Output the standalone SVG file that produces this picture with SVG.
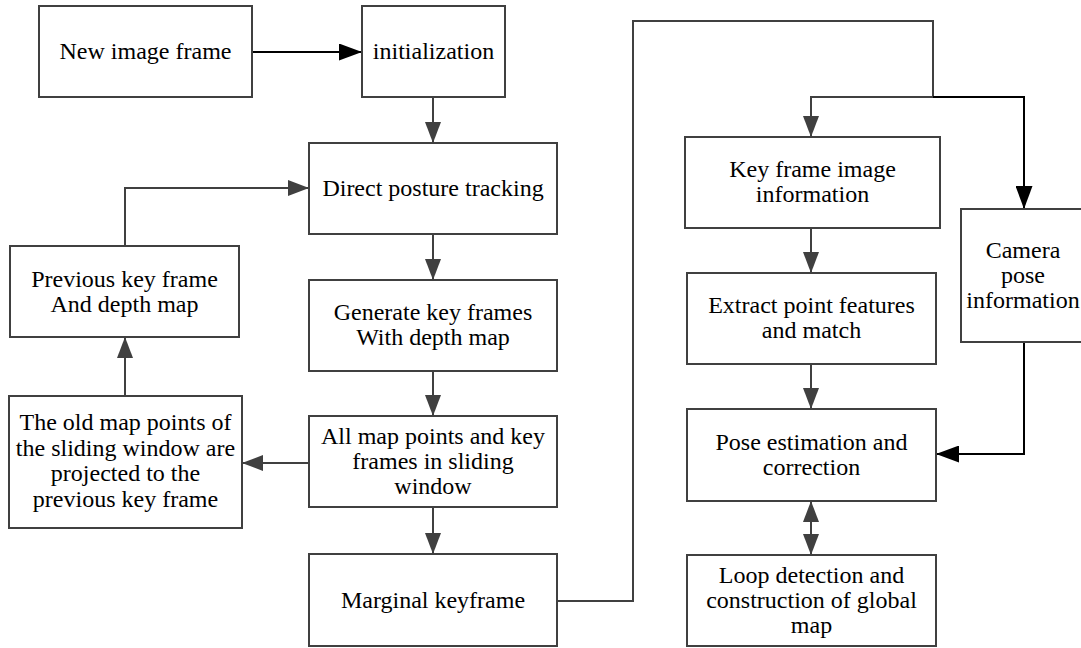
<svg xmlns="http://www.w3.org/2000/svg" width="1081" height="648" viewBox="0 0 1081 648">
<defs>
<style>
.box{fill:#fff;stroke:#404040;stroke-width:2}
.t{font-family:"Liberation Serif","Times New Roman",serif;font-size:24px;fill:#000;text-anchor:middle}
.c{fill:none;stroke:#404040;stroke-width:2}
.k{fill:none;stroke:#000;stroke-width:2}
</style>
<marker id="ag" viewBox="0 0 21 16" refX="21" refY="8" markerWidth="21" markerHeight="16" markerUnits="userSpaceOnUse" orient="auto-start-reverse">
<path d="M0,0 L21,8 L0,16 Z" fill="#404040"/>
</marker>
<marker id="ak" viewBox="0 0 23 17" refX="23" refY="8.5" markerWidth="23" markerHeight="17" markerUnits="userSpaceOnUse" orient="auto-start-reverse">
<path d="M0,0 L23,8.5 L0,17 Z" fill="#000"/>
</marker>
</defs>
<rect width="1081" height="648" fill="#fff"/>

<g id="connectors">
<path class="k" d="M252 52 H362" marker-end="url(#ak)"/>
<path class="c" d="M433 97 V143" marker-end="url(#ag)"/>
<path class="c" d="M433 234 V280" marker-end="url(#ag)"/>
<path class="c" d="M433 371 V416" marker-end="url(#ag)"/>
<path class="c" d="M433 507 V554" marker-end="url(#ag)"/>
<path class="c" d="M309 463 H242" marker-end="url(#ag)"/>
<path class="c" d="M125 396 V337" marker-end="url(#ag)"/>
<path class="c" d="M125 246 V188 H309" marker-end="url(#ag)"/>
<path class="c" d="M557 601 H633 V21 H933 V97 H811 V137" marker-end="url(#ag)"/>
<path class="k" d="M933 97 H1024 V209" marker-end="url(#ak)"/>
<path class="c" d="M811 228 V273" marker-end="url(#ag)"/>
<path class="c" d="M811 364 V409" marker-end="url(#ag)"/>
<path class="c" d="M811 501 V555" marker-start="url(#ag)" marker-end="url(#ag)"/>
<path class="k" d="M1024 342 V454 H936" marker-end="url(#ak)"/>
</g>

<g id="n-new">
<rect class="box" x="39" y="6" width="213" height="91"/>
<text class="t" x="145.5" y="59">New image frame</text>
</g>
<g id="n-init">
<rect class="box" x="362" y="6" width="143" height="91"/>
<text class="t" x="433.5" y="59">initialization</text>
</g>
<g id="n-direct">
<rect class="box" x="309" y="143" width="248" height="91"/>
<text class="t" x="433" y="196">Direct posture tracking</text>
</g>
<g id="n-generate">
<rect class="box" x="309" y="280" width="248" height="91"/>
<text class="t" x="433" y="320">Generate key frames</text>
<text class="t" x="433" y="345">With depth map</text>
</g>
<g id="n-allmap">
<rect class="box" x="309" y="416" width="248" height="91"/>
<text class="t" x="433" y="444">All map points and key</text>
<text class="t" x="433" y="469">frames in sliding</text>
<text class="t" x="433" y="494">window</text>
</g>
<g id="n-marginal">
<rect class="box" x="309" y="554" width="248" height="92"/>
<text class="t" x="433" y="607.5">Marginal keyframe</text>
</g>
<g id="n-previous">
<rect class="box" x="10" y="246" width="229" height="91"/>
<text class="t" x="124.5" y="286.5">Previous key frame</text>
<text class="t" x="124.5" y="311.5">And depth map</text>
</g>
<g id="n-old">
<rect class="box" x="9" y="396" width="233" height="132"/>
<text class="t" x="125.5" y="430">The old map points of</text>
<text class="t" x="125.5" y="455.5">the sliding window are</text>
<text class="t" x="125.5" y="481">projected to the</text>
<text class="t" x="125.5" y="506.5">previous key frame</text>
</g>
<g id="n-keyframe">
<rect class="box" x="685" y="137" width="255" height="91"/>
<text class="t" x="812.5" y="177">Key frame image</text>
<text class="t" x="812.5" y="202">information</text>
</g>
<g id="n-extract">
<rect class="box" x="687" y="273" width="249" height="91"/>
<text class="t" x="811.5" y="312.5">Extract point features</text>
<text class="t" x="811.5" y="337.5">and match</text>
</g>
<g id="n-pose">
<rect class="box" x="687" y="409" width="249" height="92"/>
<text class="t" x="811.5" y="449.5">Pose estimation and</text>
<text class="t" x="811.5" y="474.5">correction</text>
</g>
<g id="n-loop">
<rect class="box" x="687" y="555" width="249" height="91"/>
<text class="t" x="811.5" y="583">Loop detection and</text>
<text class="t" x="811.5" y="608">construction of global</text>
<text class="t" x="811.5" y="633">map</text>
</g>
<g id="n-camera">
<rect class="box" x="961" y="209" width="126" height="133"/>
<text class="t" x="1023" y="258">Camera</text>
<text class="t" x="1023" y="283">pose</text>
<text class="t" x="1023" y="308">information</text>
</g>
</svg>
